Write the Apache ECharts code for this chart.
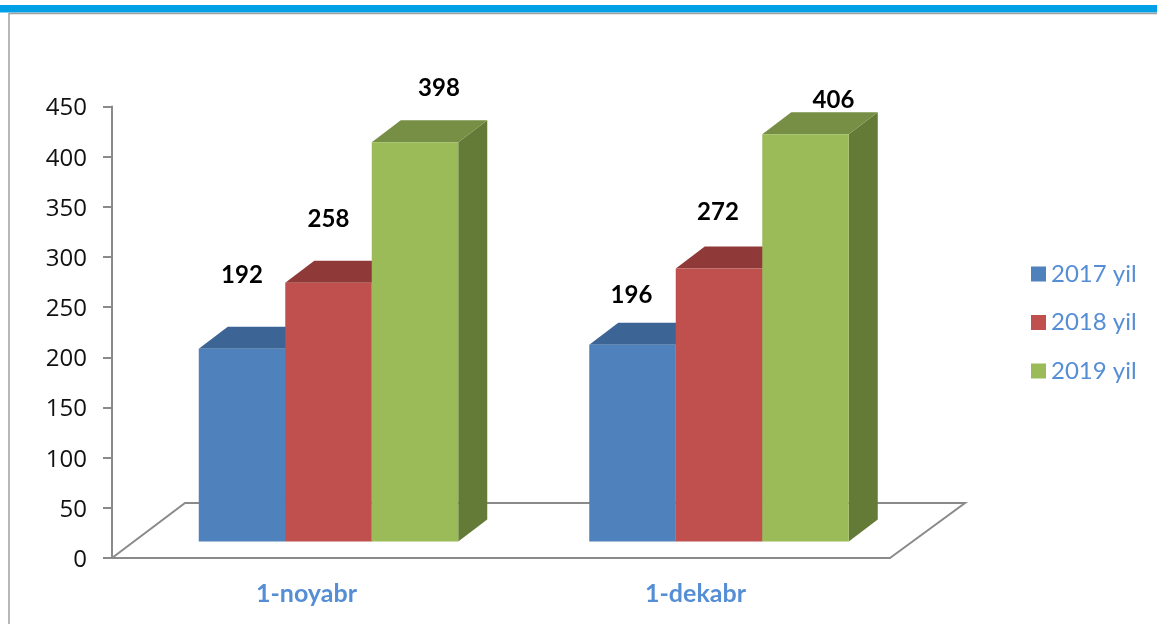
<!DOCTYPE html>
<html>
<head>
<meta charset="utf-8">
<title>1-noyabr, 1-dekabr</title>
<style>
  html, body { margin: 0; padding: 0; background: #fff; }
  #main { width: 1157px; height: 624px; }
</style>
</head>
<body>
<div id="main"></div>
<script src="https://cdn.jsdelivr.net/npm/echarts@6/dist/echarts.min.js"></script>
<script>
const categories = ['1-noyabr', '1-dekabr'];
const yearNames = ['2017 yil', '2018 yil', '2019 yil'];
const values2017 = [192, 196];
const values2018 = [258, 272];
const values2019 = [398, 406];
const yTicks = [0, 450, 50]; // min, max, interval

// look of the fake 3d columns
const faceColors = ['#4f81bd', '#c0504d', '#9bbb59'];
const topColors = ['#3c6494', '#8f3a39', '#778f45'];
const sideColors = ['#395a85', '#803331', '#647a37'];
const depthX = 29;
const depthY = 22;
const floorLift = 16.5; // columns stand a bit behind the front edge of the floor
const barWidth = 86.5;
const groupShift = [22, 23.5];

// where the value labels sit relative to the column top, [dx, dy] per category
const labelShift = [
  [[0, -74], [0, -63], [24, -54]],
  [[-1, -50], [-1, -56], [28, -34]]
];

function poly(points, fill) {
  return { type: 'polygon', shape: { points: points }, style: { fill: fill } };
}

function renderColumn(s) {
  return function (params, api) {
    const cat = api.value(0);
    const val = api.value(1);
    const p = api.coord([cat, val]);
    const base = api.coord([cat, 0]);
    const x = p[0] + groupShift[cat] + (s - 1.5) * barWidth;
    const x2 = x + barWidth;
    const top = p[1] - floorLift;
    const bottom = base[1] - floorLift;
    const shift = labelShift[cat][s];
    return {
      type: 'group',
      children: [
        poly([[x2, top], [x2 + depthX, top - depthY], [x2 + depthX, bottom - depthY], [x2, bottom]], sideColors[s]),
        poly([[x, top], [x + depthX, top - depthY], [x2 + depthX, top - depthY], [x2, top]], topColors[s]),
        poly([[x, top], [x2, top], [x2, bottom], [x, bottom]], faceColors[s]),
        {
          type: 'text',
          style: {
            x: x + barWidth / 2 + shift[0],
            y: top + shift[1],
            text: String(val),
            fill: '#000',
            font: 'bold 24px Lato',
            align: 'center',
            verticalAlign: 'middle'
          }
        }
      ]
    };
  };
}

// floor outline behind the columns
function renderFloor(params, api) {
  const left = api.coord([0, 0]);
  const right = api.coord([1, 0]);
  const band = api.size([1, 0])[0];
  const x0 = left[0] - band / 2;
  const x1 = right[0] + band / 2;
  const y0 = left[1];
  return {
    type: 'polyline',
    shape: { points: [[x0, y0], [x0 + 73, y0 - 55], [x1 + 75, y0 - 55], [x1, y0]] },
    style: { fill: null, stroke: '#8a8a8a', lineWidth: 2 }
  };
}

const chart = echarts.init(document.getElementById('main'));

const yearValues = [values2017, values2018, values2019];
const columnSeries = yearNames.map(function (name, s) {
  return {
    name: name,
    type: 'custom',
    renderItem: renderColumn(s),
    clip: false,
    itemStyle: { color: faceColors[s] },
    encode: { x: 0, y: 1 },
    data: yearValues[s].map(function (v, i) { return [i, v]; }),
    z: 3 + s
  };
});

chart.setOption({
  animation: false,
  textStyle: { fontFamily: 'Lato' },
  graphic: [
    { type: 'rect', shape: { x: 0, y: 5, width: 1157, height: 7.5 }, style: { fill: '#00a0e6' } },
    { type: 'line', shape: { x1: 9, y1: 13.5, x2: 1157, y2: 13.5 }, style: { stroke: '#a0a0a0', lineWidth: 1.5 } },
    { type: 'line', shape: { x1: 9, y1: 13, x2: 9, y2: 624 }, style: { stroke: '#a0a0a0', lineWidth: 1.5 } }
  ],
  legend: {
    data: yearNames.map(function (n) { return { name: n, icon: 'rect' }; }),
    orient: 'vertical',
    left: 1026,
    top: 254,
    itemWidth: 15,
    itemHeight: 15,
    itemGap: 18.5,
    selectedMode: false,
    textStyle: { color: '#558ed5', fontSize: 24, lineHeight: 30, fontFamily: 'Lato', padding: 0 }
  },
  grid: { left: 112, top: 106.5, width: 778, height: 451.5 },
  xAxis: {
    type: 'category',
    data: categories,
    axisLine: { lineStyle: { color: '#8a8a8a', width: 2 } },
    axisTick: { length: 9, lineStyle: { color: '#8a8a8a', width: 2 } },
    axisLabel: { color: '#558ed5', fontSize: 25, fontWeight: 'bold', fontFamily: 'Lato', margin: 23 }
  },
  yAxis: {
    type: 'value',
    min: yTicks[0],
    max: yTicks[1],
    interval: yTicks[2],
    axisLine: { show: true, lineStyle: { color: '#8a8a8a', width: 2 } },
    axisTick: { show: true, length: 9, lineStyle: { color: '#8a8a8a', width: 2 } },
    axisLabel: { color: '#111', fontSize: 24, fontFamily: 'Open Sans', margin: 25, verticalAlign: 'top', lineHeight: 4 },
    splitLine: { show: false }
  },
  series: [{
    type: 'custom',
    renderItem: renderFloor,
    clip: false,
    silent: true,
    encode: { x: 0, y: 1 },
    data: [[0, 0]],
    z: 1
  }].concat(columnSeries)
});
</script>
</body>
</html>
